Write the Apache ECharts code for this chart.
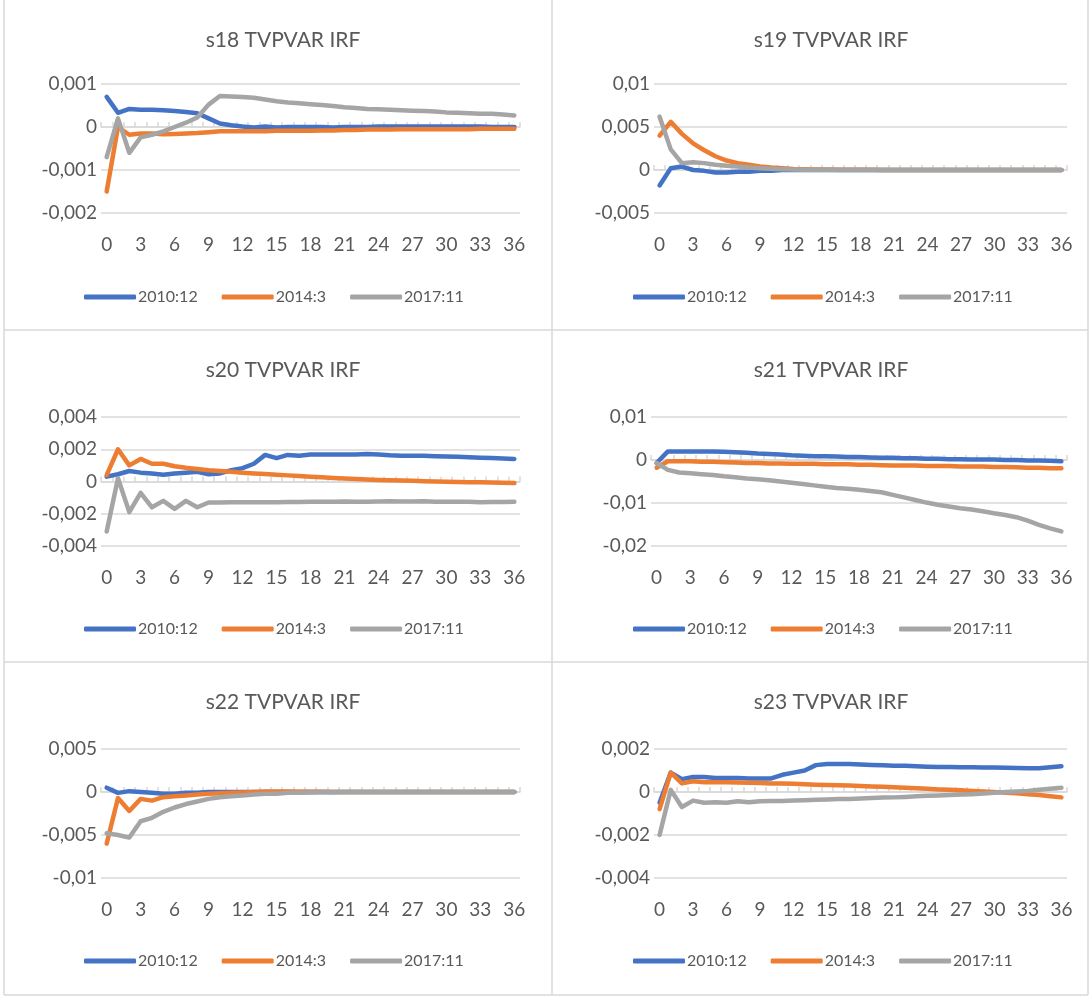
<!DOCTYPE html>
<html>
<head>
<meta charset="utf-8">
<script src="https://cdn.jsdelivr.net/npm/echarts@6/dist/echarts.min.js"></script>
<style>
  html, body { margin: 0; padding: 0; background: #ffffff; }
  #chart { width: 1091px; height: 999px; }
</style>
</head>
<body>
<div id="chart"></div>
<script>
// Horizon (months after the shock)
const horizons = [0,1,2,3,4,5,6,7,8,9,10,11,12,13,14,15,16,17,18,19,20,21,22,23,24,25,26,27,28,29,30,31,32,33,34,35,36];
const dates = ['2010:12', '2014:3', '2017:11'];

// Panel titles
const titles = ['s18 TVPVAR IRF', 's19 TVPVAR IRF', 's20 TVPVAR IRF', 's21 TVPVAR IRF', 's22 TVPVAR IRF', 's23 TVPVAR IRF'];

// Value-axis ticks per panel: [min, max, interval]
const yTicks = [
  [-0.002, 0.001, 0.001],
  [-0.005, 0.01, 0.005],
  [-0.004, 0.004, 0.002],
  [-0.02, 0.01, 0.01],
  [-0.01, 0.005, 0.005],
  [-0.004, 0.002, 0.002]
];

// s18 responses
const s18_2010_12 = [0.0007,0.00033,0.00042,0.0004,0.0004,0.00039,0.00037,0.00035,0.00032,0.0002,0.00008,0.00004,0.00001,-0.00001,0.00001,-0.00001,0,0,0,0,-0.00001,0,0,0,0.00001,0.00001,0.00001,0.00001,0.00001,0.00001,0.00001,0.00001,0.00001,0.00001,0,0,0];
const s18_2014_3 = [-0.0015,0.0000,-0.00018,-0.00015,-0.00015,-0.00017,-0.00016,-0.00015,-0.00014,-0.00012,-0.0001,-0.0001,-0.0001,-0.0001,-0.0001,-0.00009,-0.00009,-0.00009,-0.00009,-0.00008,-0.00008,-0.00007,-0.00007,-0.00006,-0.00006,-0.00006,-0.00005,-0.00005,-0.00005,-0.00005,-0.00005,-0.00005,-0.00005,-0.00004,-0.00004,-0.00004,-0.00004];
const s18_2017_11 = [-0.0007,0.0002,-0.0006,-0.00024,-0.00018,-0.0001,0.0,0.0001,0.00022,0.00052,0.00072,0.00071,0.0007,0.00068,0.00064,0.0006,0.00057,0.00055,0.00053,0.00051,0.00049,0.00046,0.00044,0.00042,0.00041,0.0004,0.00039,0.00038,0.00037,0.00036,0.00034,0.00033,0.00032,0.00031,0.00031,0.00029,0.00027];

// s19 responses
const s19_2010_12 = [-0.0018,0.0002,0.0004,0.0,-0.0001,-0.0003,-0.0003,-0.0002,-0.0002,-0.0001,-0.0001,0,0,0,0,0,0,0,0,0,0,0,0,0,0,0,0,0,0,0,0,0,0,0,0,0,0];
const s19_2014_3 = [0.004,0.0056,0.0042,0.0031,0.0023,0.0016,0.0011,0.0008,0.0006,0.0004,0.00028,0.0002,0.00013,0.0001,0.00007,0.00005,0.00004,0.00003,0.00002,0.00002,0.00001,0.00001,0,0,0,0,0,0,0,0,0,0,0,0,0,0,0];
const s19_2017_11 = [0.0062,0.0024,0.0008,0.0009,0.0008,0.0006,0.0005,0.0004,0.0003,0.0002,0.00015,0.0001,0.00006,0.00004,0.00003,0.00002,0.00001,0,0,0,0,0,0,0,0,0,0,0,0,0,0,0,0,0,0,0,0];

// s20 responses
const s20_2010_12 = [0.0003,0.00045,0.00065,0.00055,0.0005,0.00042,0.0005,0.00055,0.0006,0.00045,0.0005,0.0007,0.00083,0.0011,0.00165,0.00145,0.00165,0.0016,0.00168,0.00168,0.00167,0.00167,0.00168,0.0017,0.00168,0.00163,0.0016,0.0016,0.0016,0.00157,0.00155,0.00153,0.0015,0.00148,0.00145,0.00143,0.0014];
const s20_2014_3 = [0.0004,0.002,0.001,0.0014,0.0011,0.0011,0.00095,0.00085,0.00078,0.0007,0.00065,0.0006,0.00055,0.0005,0.00046,0.00042,0.00038,0.00034,0.0003,0.00026,0.00022,0.00018,0.00015,0.00012,0.0001,0.00008,0.00006,0.00004,0.00002,0.0,-0.00001,-0.00003,-0.00004,-0.00005,-0.00006,-0.00008,-0.0001];
const s20_2017_11 = [-0.0031,0.0002,-0.0019,-0.0007,-0.0016,-0.0012,-0.0017,-0.0012,-0.0016,-0.0013,-0.0013,-0.00129,-0.00128,-0.00128,-0.00128,-0.00128,-0.00127,-0.00127,-0.00126,-0.00126,-0.00125,-0.00124,-0.00125,-0.00125,-0.00124,-0.00123,-0.00124,-0.00124,-0.00123,-0.00125,-0.00126,-0.00126,-0.00125,-0.00128,-0.00127,-0.00127,-0.00126];

// s21 responses
const s21_2010_12 = [-0.0007,0.002,0.002,0.002,0.002,0.002,0.0019,0.0018,0.0017,0.0015,0.0014,0.0013,0.0011,0.001,0.0009,0.0009,0.0008,0.0007,0.0007,0.0006,0.0005,0.0005,0.0004,0.0004,0.0003,0.0003,0.0002,0.0002,0.0001,0.0001,0.0001,0.0,0.0,-0.0001,-0.0001,-0.0002,-0.0003];
const s21_2014_3 = [-0.0018,-0.0003,-0.0003,-0.0003,-0.0004,-0.0004,-0.0005,-0.0006,-0.0007,-0.0007,-0.0008,-0.0008,-0.0009,-0.0009,-0.0009,-0.001,-0.001,-0.001,-0.0011,-0.0011,-0.0012,-0.0013,-0.0013,-0.0013,-0.0014,-0.0014,-0.0014,-0.0015,-0.0015,-0.0015,-0.0016,-0.0016,-0.0017,-0.0018,-0.0018,-0.0019,-0.0019];
const s21_2017_11 = [-0.0007,-0.0023,-0.0029,-0.0031,-0.0033,-0.0035,-0.0038,-0.004,-0.0043,-0.0045,-0.0047,-0.005,-0.0053,-0.0056,-0.0059,-0.0062,-0.0065,-0.0067,-0.0069,-0.0072,-0.0075,-0.0081,-0.0087,-0.0093,-0.0099,-0.0104,-0.0108,-0.0112,-0.0115,-0.0119,-0.0124,-0.0128,-0.0133,-0.0141,-0.0151,-0.0159,-0.0166];

// s22 responses
const s22_2010_12 = [0.0005,-0.0001,0.0001,0.0,-0.0001,-0.0002,-0.0002,-0.0001,-0.0001,0,0,0,0,0,0,0,0,0,0,0,0,0,0,0,0,0,0,0,0,0,0,0,0,0,0,0,0];
const s22_2014_3 = [-0.006,-0.0007,-0.0022,-0.0008,-0.001,-0.0006,-0.0005,-0.0004,-0.0003,-0.0002,-0.00015,-0.0001,-0.00005,0,0.00005,0.00005,0.00005,0.00004,0.00003,0.00002,0.00001,0,0,0,0,0,0,0,0,0,0,0,0,0,0,0,0];
const s22_2017_11 = [-0.0048,-0.005,-0.0053,-0.0034,-0.003,-0.0023,-0.0018,-0.0014,-0.0011,-0.0008,-0.0006,-0.0005,-0.0004,-0.0003,-0.0002,-0.0002,-0.0001,-0.0001,-0.00005,-0.00003,-0.00002,-0.00001,0,0,0,0,0,0,0,0,0,0,0,0,0,0,0];

// s23 responses
const s23_2010_12 = [-0.0005,0.0009,0.0006,0.0007,0.0007,0.00065,0.00065,0.00065,0.00063,0.00063,0.00063,0.0008,0.0009,0.001,0.00125,0.0013,0.0013,0.0013,0.00128,0.00126,0.00124,0.00122,0.00122,0.0012,0.00118,0.00116,0.00116,0.00115,0.00115,0.00114,0.00114,0.00113,0.00112,0.0011,0.0011,0.00115,0.0012];
const s23_2014_3 = [-0.0008,0.0009,0.0004,0.0005,0.00045,0.00045,0.00045,0.00044,0.00043,0.00042,0.0004,0.00039,0.00038,0.00036,0.00034,0.00033,0.00031,0.0003,0.00028,0.00026,0.00024,0.00022,0.0002,0.00017,0.00015,0.00012,0.0001,0.00008,0.00005,0.00002,0.0,-0.00003,-0.00006,-0.0001,-0.00014,-0.0002,-0.00025];
const s23_2017_11 = [-0.002,0.0001,-0.0007,-0.0004,-0.0005,-0.00048,-0.0005,-0.00043,-0.00048,-0.00043,-0.00042,-0.00042,-0.0004,-0.00038,-0.00036,-0.00035,-0.00033,-0.00032,-0.0003,-0.00028,-0.00026,-0.00025,-0.00023,-0.0002,-0.00018,-0.00016,-0.00014,-0.00012,-0.0001,-0.00007,-0.00003,0.0,0.00002,0.00005,0.0001,0.00015,0.0002];

const panels = [
  [s18_2010_12, s18_2014_3, s18_2017_11],
  [s19_2010_12, s19_2014_3, s19_2017_11],
  [s20_2010_12, s20_2014_3, s20_2017_11],
  [s21_2010_12, s21_2014_3, s21_2017_11],
  [s22_2010_12, s22_2014_3, s22_2017_11],
  [s23_2010_12, s23_2014_3, s23_2017_11]
];

const colors = ['#4472C4', '#ED7D31', '#A5A5A5'];
const textColor = '#595959';
const gridColor = '#D9D9D9';
const font = 'Lato, "Open Sans", sans-serif';

// Layout of the 3 x 2 panel grid
const rowTop = [84, 417, 749];
const plotHeight = 129;
const titleY = [38, 368, 700];
const legendY = [295, 627, 959];
const plotLeft = [101, 654, 101, 651, 101, 654];
const plotWidth = [419, 413, 419, 416, 419, 413];
const titleX = [278, 826];
const legendX = [79, 628];

function fmt(v) {
  const r = parseFloat(v.toFixed(6));
  return r === 0 ? '0' : String(r).replace('.', ',');
}

const option = {
  animation: false,
  backgroundColor: '#ffffff',
  color: colors,
  title: [], legend: [], grid: [], xAxis: [], yAxis: [], series: [],
  graphic: []
};

panels.forEach((panel, p) => {
  const row = Math.floor(p / 2), col = p % 2;
  option.title.push({
    text: titles[p],
    left: titleX[col], top: titleY[row] - 13,
    textAlign: 'center',
    textStyle: { fontFamily: font, fontSize: 21, fontWeight: 'normal', color: textColor }
  });
  option.legend.push({
    data: dates,
    left: legendX[col], top: legendY[row] - 11,
    itemWidth: 52, itemHeight: 5, itemGap: 24,
    icon: 'roundRect',
    textStyle: { fontFamily: font, fontSize: 16, color: textColor, padding: [0, 0, 0, -3] }
  });
  option.grid.push({
    left: plotLeft[p], top: rowTop[row], width: plotWidth[p], height: plotHeight,
    containLabel: false
  });
  // category axis carrying the labels at the bottom of the plot
  option.xAxis.push({
    type: 'category', gridIndex: p, data: horizons, boundaryGap: true,
    axisLine: { show: false, onZero: false }, axisTick: { show: false },
    axisLabel: { interval: 2, fontFamily: font, fontSize: 19, color: textColor, margin: 22 },
    splitLine: { show: false }
  });
  // zero line with tick marks between categories
  option.xAxis.push({
    type: 'category', gridIndex: p, data: horizons, boundaryGap: true,
    axisLine: { show: true, onZero: true, lineStyle: { color: gridColor, width: 1.5 } },
    axisTick: { show: true, interval: 0, length: 5, lineStyle: { color: gridColor, width: 1.5 } },
    axisLabel: { show: false }, splitLine: { show: false }
  });
  const [mn, mx, iv] = yTicks[p];
  option.yAxis.push({
    type: 'value', gridIndex: p, min: mn, max: mx, interval: iv,
    axisLine: { show: false }, axisTick: { show: false },
    axisLabel: { formatter: fmt, fontFamily: font, fontSize: 19, color: textColor, margin: 4 },
    splitLine: { lineStyle: { color: gridColor, width: 1.5 } }
  });
  panel.forEach((vals, s) => {
    option.series.push({
      name: dates[s], type: 'line', xAxisIndex: p * 2, yAxisIndex: p,
      data: vals, showSymbol: false, symbol: 'none',
      lineStyle: { width: 4.5, color: colors[s], cap: 'round', join: 'round' },
      itemStyle: { color: colors[s] },
      z: 3 + s
    });
  });
});

// panel frames
const frame = { stroke: gridColor, lineWidth: 1.5 };
[[4, 0, 4, 995], [552, 0, 552, 995], [1088, 0, 1088, 995],
 [4, 330, 1088, 330], [4, 662, 1088, 662], [4, 995, 1088, 995]].forEach(([x1, y1, x2, y2]) => {
  option.graphic.push({ type: 'line', shape: { x1, y1, x2, y2 }, style: frame, silent: true });
});

const chart = echarts.init(document.getElementById('chart'), null, { renderer: 'canvas' });
chart.setOption(option);
</script>
</body>
</html>
